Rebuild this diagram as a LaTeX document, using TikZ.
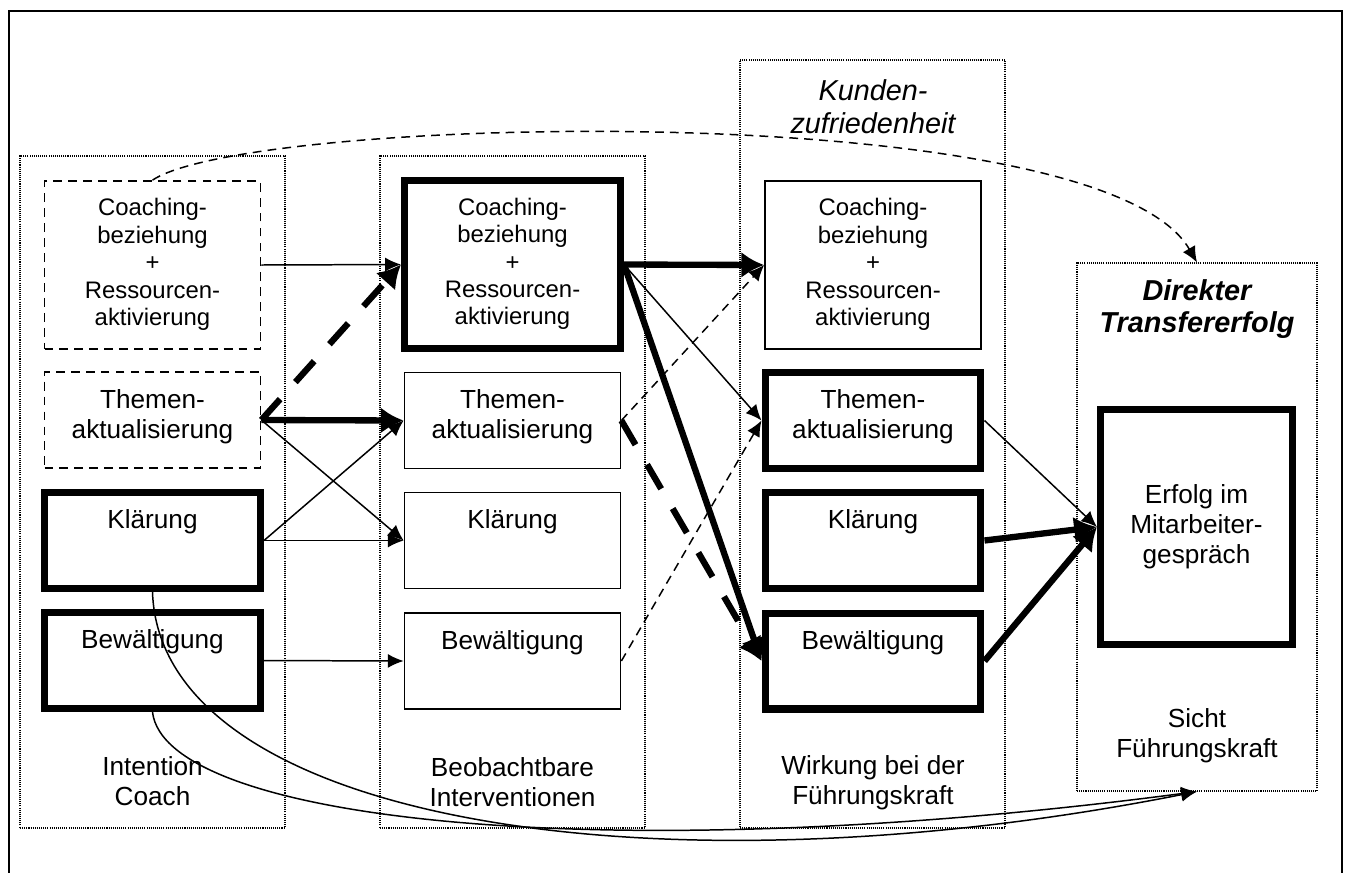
\documentclass[tikz,border=0pt]{standalone}
\usepackage{fontspec}
\setmainfont{Liberation Sans}
\usetikzlibrary{arrows.meta}

\newcommand{\toptext}[2]{\parbox[c][#1][t]{4.3cm}{\centering\vspace*{0.35cm}#2}}

\begin{document}
\begin{tikzpicture}[x=0.02cm, y=-0.02cm,
    col/.style={draw, line width=0.7pt, dash pattern=on 0.6pt off 0.6pt,
                inner sep=0pt, minimum width=5.3cm},
    box/.style={draw, line width=1pt, inner sep=0pt, minimum width=4.32cm,
                font=\fontsize{14.9pt}{17pt}\selectfont},
    fat/.style={box, line width=4pt},
    dbox/.style={box, dash pattern=on 5pt off 3.5pt},
    small/.style={font=\fontsize{13.6pt}{15.6pt}\selectfont},
    lbl/.style={align=center, inner sep=0pt, font=\fontsize{14.9pt}{17pt}\selectfont},
    head/.style={lbl, font=\fontsize{16.4pt}{18.7pt}\selectfont\itshape},
    headb/.style={lbl, font=\fontsize{16.4pt}{18.7pt}\selectfont\bfseries\itshape},
    thin/.style={line width=0.85pt, -{Latex[length=9pt,width=8pt]}},
    thick/.style={line width=3.6pt, -{Latex[length=13pt,width=15pt]}},
    dthin/.style={thin, dash pattern=on 5pt off 3.5pt},
    dthick/.style={thick, dash pattern=on 16pt off 13pt}]
\useasboundingbox (0,0) rectangle (1347,873);
        % Draw the frame and the columns
        \draw[line width=1.2pt] (9,873) -- (9,11) -- (1342,11) -- (1342,873);
        \node[col, minimum height=13.44cm] (c1) at (152.5,492) {};
        \node[col, minimum height=13.44cm] (c2) at (512.5,492) {};
        \node[col, minimum height=15.36cm] (c3) at (872.5,444) {};
        \node[col, minimum width=4.8cm, minimum height=10.56cm] (c4) at (1197,527) {};
        % Draw the boxes
        \node[dbox, small] at (152.5,265) (icoach) {\toptext{3.36cm}{Coaching-\\beziehung\\+\\Ressourcen-\\aktivierung}};
        \node[dbox] at (152.5,420)   (ithemen) {\toptext{1.92cm}{Themen-\\aktualisierung}};
        \node[fat]  at (152.5,540.5) (iklaer)  {\toptext{1.92cm}{Klärung}};
        \node[fat]  at (152.5,660.5) (ibew)    {\toptext{1.92cm}{Bewältigung}};
        \node[fat, small] at (512.5,264.5) (bcoach) {\toptext{3.36cm}{Coaching-\\beziehung\\+\\Ressourcen-\\aktivierung}};
        \node[box] at (512.5,420.5) (bthemen) {\toptext{1.92cm}{Themen-\\aktualisierung}};
        \node[box] at (512.5,540.5) (bklaer)  {\toptext{1.92cm}{Klärung}};
        \node[box] at (512.5,661)   (bbew)    {\toptext{1.92cm}{Bewältigung}};
        \node[box, small] at (873,265) (wcoach) {\toptext{3.36cm}{Coaching-\\beziehung\\+\\Ressourcen-\\aktivierung}};
        \node[fat] at (873,420.5) (wthemen) {\toptext{1.92cm}{Themen-\\aktualisierung}};
        \node[fat] at (873,540.5) (wklaer)  {\toptext{1.92cm}{Klärung}};
        \node[fat] at (873,661)   (wbew)    {\toptext{1.92cm}{Bewältigung}};
        \node[fat, minimum width=3.84cm, minimum height=4.7cm, align=center]
            at (1196.5,527) (erfolg) {Erfolg im\\Mitarbeiter-\\gespräch};
        % Column titles
        \node[lbl]   at (152.5,781) (lint)    {Intention\\Coach};
        \node[lbl]   at (512.5,782) (lbeo)    {Beobachtbare\\Interventionen};
        \node[lbl]   at (873,783)   (lwir)    {Wirkung bei der\\Führungskraft};
        \node[lbl]   at (1197,736)  (lsicht)  {Sicht\\Führungskraft};
        \node[head]  at (873,107)   (lkunden) {Kunden-\\zufriedenheit};
        \node[headb] at (1197,309)  (ldirekt) {Direkter\\Transfererfolg};
        % Connect the boxes with arrows
        \draw
            (icoach.east)  edge[thin]   (bcoach.west)
            (ithemen.east) edge[dthick] (bcoach.west)
            (ithemen.east) edge[thick]  (bthemen.west)
            (ithemen.east) edge[thin]   (bklaer.west)
            (iklaer.east)  edge[thin]   (bthemen.west)
            (iklaer.east)  edge[thin]   (bklaer.west)
            (ibew.east)    edge[thin]   (bbew.west)
            (bcoach.east)  edge[thick]  (wcoach.west)
            (bcoach.east)  edge[thin]   (wthemen.west)
            (bcoach.east)  edge[thick]  (wbew.west)
            (bthemen.east) edge[dthick] (wbew.west)
            (bthemen.east) edge[dthin]  (wcoach.west)
            (bbew.east)    edge[dthin]  (wthemen.west)
            (wthemen.east) edge[thin]   (erfolg.west)
            (wklaer.east)  edge[thick]  (erfolg.west)
            (wbew.east)    edge[thick]  (erfolg.west);
        % Long curves
        \draw[dthin] (icoach.north) .. controls (250,115) and (1100,95) .. (c4.north);
        \draw[thin] (iklaer.south) .. controls (160,820) and (650,900) .. (c4.south);
        \draw[thin] (ibew.south) .. controls (165,820) and (600,870) .. (c4.south);
\end{tikzpicture}
\end{document}
